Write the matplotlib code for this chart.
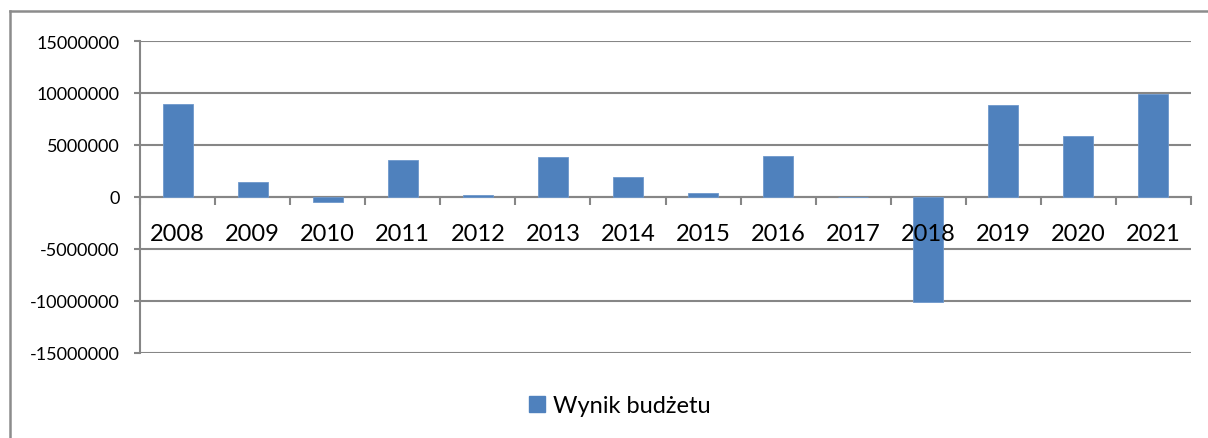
import matplotlib
matplotlib.use("Agg")
import matplotlib.pyplot as plt
from matplotlib.lines import Line2D
from matplotlib.patches import Patch
import numpy as np

years = ["2008", "2009", "2010", "2011", "2012", "2013", "2014",
         "2015", "2016", "2017", "2018", "2019", "2020", "2021"]
values = [8950000, 1410000, -450000, 3530000, 150000, 3820000, 1890000,
          380000, 3970000, 0, -10130000, 8880000, 5870000, 9930000]
series_name = "Wynik budżetu"
yticks = [-15000000, -10000000, -5000000, 0, 5000000, 10000000, 15000000]

plt.rcParams['font.family'] = ['Lato', 'DejaVu Sans']

W, H = 1208, 439
fig = plt.figure(figsize=(W / 100, H / 100), dpi=100)
ax = fig.add_axes([140 / W, (H - 354) / H, 1051 / W, 312 / H])

grid_c = "#868686"
bar_c = "#4F81BD"

x = np.arange(len(years))
ax.bar(x, values, width=0.4, color=bar_c, edgecolor="#6E98CC", linewidth=0.6, zorder=2)

ax.set_xlim(-0.5, len(years) - 0.5)
ax.set_ylim(-15000000, 15000000)
ax.set_yticks(yticks)
ax.set_yticklabels([str(v) for v in yticks], fontsize=13)
ax.yaxis.grid(True, color=grid_c, linewidth=1.5)
ax.yaxis.set_zorder(0.5)
ax.xaxis.set_zorder(4)

for s in ["top", "right"]:
    ax.spines[s].set_visible(False)
ax.spines["left"].set_color(grid_c)
ax.spines["left"].set_linewidth(1.5)
ax.spines["left"].set_zorder(1)
ax.spines["bottom"].set_position(("data", 0))
ax.spines["bottom"].set_color(grid_c)
ax.spines["bottom"].set_linewidth(1.5)
ax.spines["bottom"].set_zorder(1)

ax.set_xticks(x)
ax.set_xticklabels(years, fontsize=17)
ax.tick_params(axis="x", which="major", length=0, pad=19)
ax.set_xticks(np.arange(len(years) + 1) - 0.5, minor=True)
ax.tick_params(axis="x", which="minor", length=6, width=1.5, color=grid_c, direction="out")
ax.tick_params(axis="y", length=4.5, width=1.5, color=grid_c, pad=10)

# outer chart border (left and top visible)
fig.add_artist(Line2D([10 / W, 10 / W], [0, (H - 12) / H], color="#8C8C8C", linewidth=1.8,
                      transform=fig.transFigure))
fig.add_artist(Line2D([10 / W, 1], [(H - 12) / H, (H - 12) / H], color="#8C8C8C", linewidth=1.8,
                      transform=fig.transFigure))

fig.legend(handles=[Patch(facecolor=bar_c, edgecolor=bar_c)], labels=[series_name],
           loc="center", bbox_to_anchor=(620 / W, (H - 407) / H), frameon=False,
           fontsize=17, handlelength=0.65, handleheight=0.65, handletextpad=0.35)

fig.savefig("out.png", dpi=100)
